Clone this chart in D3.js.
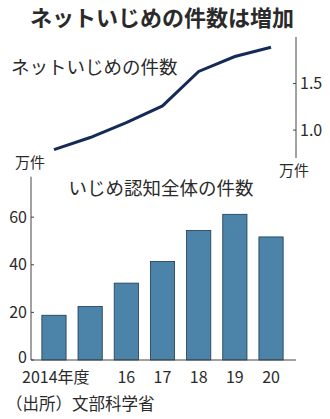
<!DOCTYPE html>
<html>
<head>
<meta charset="utf-8">
<script src="https://cdn.jsdelivr.net/npm/d3@7"></script>
<style>
  body { margin: 0; background: #fff; }
  svg { display: block; }
  text { font-family: "Noto Sans CJK JP", sans-serif; fill: #2a2a2a; }
  .num { font-family: "Liberation Sans Narrow", "Noto Sans CJK JP", sans-serif; }
</style>
</head>
<body>
<div id="chart"></div>
<script>
// data (万件)
const years = ["2014", "2015", "2016", "2017", "2018", "2019", "2020"];
const yearLabels = ["2014年度", "", "16", "17", "18", "19", "20"];
const netCases = [0.79, 0.92, 1.08, 1.26, 1.63, 1.79, 1.89];
const totalCases = [18.8, 22.5, 32.3, 41.4, 54.4, 61.2, 51.7];
const lineTicks = [1.0, 1.5];
const barTicks = [0, 20, 40, 60];

const width = 330, height = 419;

const svg = d3.select("#chart").append("svg")
  .attr("width", width)
  .attr("height", height);

svg.append("text")
  .attr("x", 162).attr("y", 26)
  .attr("text-anchor", "middle")
  .style("font-size", "22px")
  .style("font-weight", "bold")
  .text("ネットいじめの件数は増加");

const x = d3.scaleBand()
  .domain(years)
  .range([31, 294])
  .paddingInner(0.33)
  .paddingOuter(0.3);

// ---- line chart (top) ----
const yLine = d3.scaleLinear().domain([0.7, 2.0]).range([158, 37]);

const lineAxis = svg.append("g").attr("transform", "translate(296,0)");
lineAxis.append("line")
  .attr("y1", yLine(2.0)).attr("y2", yLine(0.7))
  .attr("stroke", "#444").attr("stroke-width", 1);
lineAxis.selectAll(".tick")
  .data(lineTicks)
  .enter().append("line")
  .attr("x1", -3).attr("x2", 0)
  .attr("y1", (d) => yLine(d)).attr("y2", (d) => yLine(d))
  .attr("stroke", "#444");
lineAxis.selectAll("text")
  .data(lineTicks)
  .enter().append("text")
  .attr("class", "num")
  .attr("x", 4)
  .attr("y", (d) => yLine(d))
  .attr("dy", "0.35em")
  .style("font-size", "16px")
  .text((d) => d.toFixed(1));

svg.append("text")
  .attr("x", 294).attr("y", 176)
  .attr("text-anchor", "middle")
  .style("font-size", "15px")
  .text("万件");

svg.append("text")
  .attr("x", 11).attr("y", 74)
  .style("font-size", "18.5px")
  .text("ネットいじめの件数");

const line = d3.line()
  .x((d, i) => x(years[i]) + x.bandwidth() / 2)
  .y((d) => yLine(d));

svg.append("path")
  .datum(netCases)
  .attr("d", line)
  .attr("fill", "none")
  .attr("stroke", "#142b57")
  .attr("stroke-width", 3);

// ---- bar chart (bottom) ----
const yBar = d3.scaleLinear().domain([0, 77]).range([360, 176.7]);

svg.append("text")
  .attr("x", 30).attr("y", 168)
  .attr("text-anchor", "middle")
  .style("font-size", "15px")
  .text("万件");

svg.append("text")
  .attr("x", 161).attr("y", 195)
  .attr("text-anchor", "middle")
  .style("font-size", "18.5px")
  .text("いじめ認知全体の件数");

svg.selectAll(".bar")
  .data(totalCases)
  .enter().append("rect")
  .attr("class", "bar")
  .attr("x", (d, i) => x(years[i]))
  .attr("y", (d) => yBar(d))
  .attr("width", x.bandwidth())
  .attr("height", (d) => yBar(0) - yBar(d))
  .attr("fill", "#4b83a9")
  .attr("stroke", "#1d3a52")
  .attr("stroke-width", 0.8);

const barAxis = svg.append("g").attr("transform", "translate(31,0)");
barAxis.append("line")
  .attr("y1", yBar(77)).attr("y2", yBar(0))
  .attr("stroke", "#444");
barAxis.selectAll(".tk")
  .data(barTicks)
  .enter().append("line")
  .attr("x1", 0).attr("x2", 3)
  .attr("y1", (d) => yBar(d)).attr("y2", (d) => yBar(d))
  .attr("stroke", "#444");
barAxis.selectAll("text")
  .data(barTicks)
  .enter().append("text")
  .attr("class", "num")
  .attr("x", -4)
  .attr("y", (d) => yBar(d))
  .attr("dy", (d) => d === 0 ? "0.2em" : "0.35em")
  .attr("text-anchor", "end")
  .style("font-size", "16px")
  .text((d) => d);

svg.append("line")
  .attr("x1", 31).attr("x2", 296)
  .attr("y1", yBar(0)).attr("y2", yBar(0))
  .attr("stroke", "#444");

svg.selectAll(".xl")
  .data(yearLabels)
  .enter().append("text")
  .attr("class", "num")
  .attr("x", (d, i) => i === 0 ? 22 : x(years[i]) + x.bandwidth() / 2)
  .attr("y", 383)
  .attr("text-anchor", (d, i) => i === 0 ? "start" : "middle")
  .style("font-size", "16px")
  .text((d) => d);

svg.append("text")
  .attr("x", 6).attr("y", 410)
  .style("font-size", "16.5px")
  .text("（出所）文部科学省");
</script>
</body>
</html>
